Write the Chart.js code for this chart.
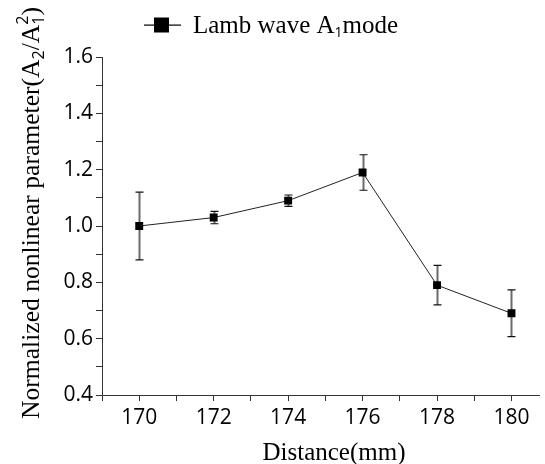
<!DOCTYPE html>
<html>
<head>
<meta charset="utf-8">
<script src="https://cdn.jsdelivr.net/npm/chart.js@4"></script>
<style>
  html, body { margin: 0; padding: 0; background: #fff; }
  #wrap { width: 545px; height: 464px; }
</style>
</head>
<body>
<div id="wrap"><canvas id="nlchart"></canvas></div>
<script>
const distances = [170, 172, 174, 176, 178, 180];
const nonlinear = [1.00, 1.03, 1.09, 1.19, 0.79, 0.69];
const errors = [0.12, 0.022, 0.02, 0.063, 0.07, 0.083];
const seriesName = 'Lamb wave A\u2081mode';

const serif = '"Liberation Serif", "DejaVu Serif", serif';
const sans = '"Open Sans", sans-serif';

// error bars go under the line and the squares
const errorBars = {
  id: 'errorBars',
  beforeDatasetsDraw(chart) {
    const ctx = chart.ctx;
    const xs = chart.scales.x, ys = chart.scales.y;
    ctx.save();
    for (let i = 0; i < distances.length; i++) {
      const px = Math.round(xs.getPixelForValue(distances[i])) + 0.5;
      const top = ys.getPixelForValue(nonlinear[i] + errors[i]);
      const bot = ys.getPixelForValue(nonlinear[i] - errors[i]);
      ctx.strokeStyle = '#6a6a6a';
      ctx.lineWidth = 2;
      ctx.beginPath();
      ctx.moveTo(px, top);
      ctx.lineTo(px, bot);
      ctx.stroke();
      ctx.strokeStyle = '#111';
      ctx.lineWidth = 1.2;
      ctx.beginPath();
      ctx.moveTo(px - 4, top);
      ctx.lineTo(px + 4, top);
      ctx.moveTo(px - 4, bot);
      ctx.lineTo(px + 4, bot);
      ctx.stroke();
    }
    ctx.restore();
  }
};

// draws a run of text pieces; stack=true keeps x for the next piece
function drawRich(ctx, x, y, pieces) {
  let cx = x;
  for (const p of pieces) {
    ctx.font = p.font;
    ctx.fillText(p.text, cx, y + (p.dy || 0));
    if (!p.stack) cx += ctx.measureText(p.text).width;
  }
  return cx;
}

// legend and axis titles with real sub/superscripts
const titles = {
  id: 'titles',
  afterDraw(chart) {
    const ctx = chart.ctx;
    ctx.save();
    ctx.fillStyle = '#000';
    ctx.textBaseline = 'alphabetic';

    // legend
    ctx.fillRect(144, 24.5, 37, 1.2);
    ctx.fillRect(154, 17.5, 15, 15);
    drawRich(ctx, 193, 33, [
      { text: 'Lamb wave A', font: '25px ' + serif },
      { text: '1', font: '14px ' + sans, dy: 4 },
      { text: 'mode', font: '25px ' + serif }
    ]);

    // x title
    ctx.font = '25px ' + serif;
    ctx.textAlign = 'center';
    ctx.fillText('Distance(mm)', 334, 460);

    // y title
    ctx.textAlign = 'left';
    ctx.translate(39, 419);
    ctx.rotate(-Math.PI / 2);
    drawRich(ctx, 0, 0, [
      { text: 'Normalized nonlinear parameter(A', font: '25.6px ' + serif },
      { text: '2', font: '16px ' + sans, dy: 5 },
      { text: '/A', font: '25.6px ' + serif },
      { text: '1', font: '16px ' + sans, dy: 5, stack: true },
      { text: '2', font: '16px ' + sans, dy: -11 },
      { text: ')', font: '25.6px ' + serif }
    ]);
    ctx.restore();
  }
};

const nlChart = new Chart(document.getElementById('nlchart'), {
  type: 'scatter',
  data: {
    datasets: [{
      label: seriesName,
      data: distances.map((d, i) => ({ x: d, y: nonlinear[i] })),
      showLine: true,
      borderColor: '#222',
      borderWidth: 1,
      backgroundColor: '#000',
      pointStyle: 'rect',
      pointRadius: 5.6,
      pointBorderWidth: 0
    }]
  },
  options: {
    responsive: true,
    maintainAspectRatio: false,
    animation: false,
    layout: { padding: { top: 57, right: 0, left: 0, bottom: 0 } },
    plugins: {
      tooltip: { enabled: false },
      legend: { display: false }
    },
    scales: {
      x: {
        type: 'linear',
        min: 169,
        max: 180.75,
        afterFit: (s) => { s.height = 69; },
        border: { color: '#333', width: 1 },
        grid: { drawOnChartArea: false, drawTicks: true, tickLength: 6, color: '#333' },
        ticks: {
          stepSize: 1,
          includeBounds: false,
          autoSkip: false,
          maxRotation: 0,
          padding: 4,
          color: '#000',
          font: { family: sans, size: 21 },
          callback: (v) => (Math.round(v) % 2 === 0 ? String(v) : '')
        }
      },
      y: {
        min: 0.4,
        max: 1.6,
        afterFit: (s) => { s.width = 102; },
        border: { color: '#333', width: 1 },
        grid: { drawOnChartArea: false, drawTicks: true, tickLength: 6, color: '#333' },
        ticks: {
          stepSize: 0.1,
          autoSkip: false,
          padding: 3,
          color: '#000',
          font: { family: sans, size: 21 },
          callback: (v) => (Math.round(v * 10) % 2 === 0 ? v.toFixed(1) : '')
        }
      }
    }
  },
  plugins: [errorBars, titles]
});
</script>
</body>
</html>
